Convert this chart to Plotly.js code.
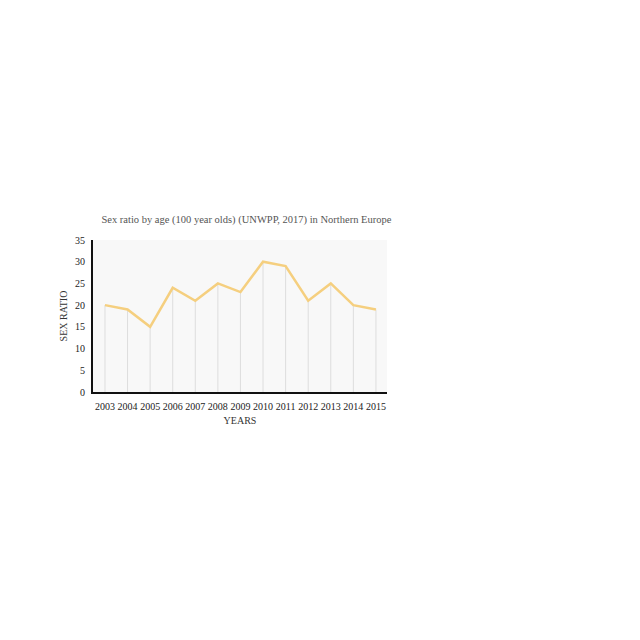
<!DOCTYPE html>
<html>
<head>
<script src="https://cdn.plot.ly/plotly-3.0.1.min.js"></script>
<style>body{margin:0;background:#fff}</style>
</head>
<body>
<div id="chart" style="width:640px;height:640px"></div>
<script>
years = [2003, 2004, 2005, 2006, 2007, 2008, 2009, 2010, 2011, 2012, 2013, 2014, 2015]
sexRatio = [20, 19, 15, 24, 21, 25, 23, 30, 29, 21, 25, 20, 19]
yTicks = [0, 5, 10, 15, 20, 25, 30, 35]

serif = 'Liberation Serif, DejaVu Serif, serif'

line = {
    x: years,
    y: sexRatio,
    mode: 'lines',
    type: 'scatter',
    line: {color: '#f5cf7f', width: 2.5},
    // drop lines down to zero
    error_y: {type: 'data', symmetric: false, array: sexRatio.map(() => 0), arrayminus: sexRatio,
              color: '#dddddd', thickness: 1, width: 0},
    hoverinfo: 'x+y'
}

var layout = {
    width: 640, height: 640,
    margin: {l: 93, r: 253, t: 240, b: 248},
    paper_bgcolor: '#ffffff',
    plot_bgcolor: '#f8f8f8',
    showlegend: false,
    font: {family: serif, color: '#333', size: 10},
    title: {text: 'Sex ratio by age (100 year olds) (UNWPP, 2017) in Northern Europe',
            font: {family: serif, size: 10.5, color: '#555'}, x: 0.385, xanchor: 'center', y: 0.657, yanchor: 'middle'},
    xaxis: {
        range: [2002.47, 2015.49], tickvals: years, ticktext: years.map(String),
        showgrid: false, zeroline: false, showline: true, linecolor: '#111', linewidth: 2,
        ticks: 'outside', ticklen: 4, tickcolor: 'rgba(0,0,0,0)', tickfont: {size: 10, color: '#222'},
        title: {text: 'YEARS', font: {size: 10, color: '#333'}, standoff: 6}
    },
    yaxis: {
        range: [0, 35], tickvals: yTicks,
        showgrid: false, zeroline: false, showline: true, linecolor: '#111', linewidth: 2,
        ticks: 'outside', ticklen: 4, tickcolor: 'rgba(0,0,0,0)', tickfont: {size: 10, color: '#222'},
        title: {text: 'SEX RATIO', font: {size: 10, color: '#333'}, standoff: 6}
    }
}

Plotly.newPlot('chart', [line], layout, {displayModeBar: false})
</script>
</body>
</html>
